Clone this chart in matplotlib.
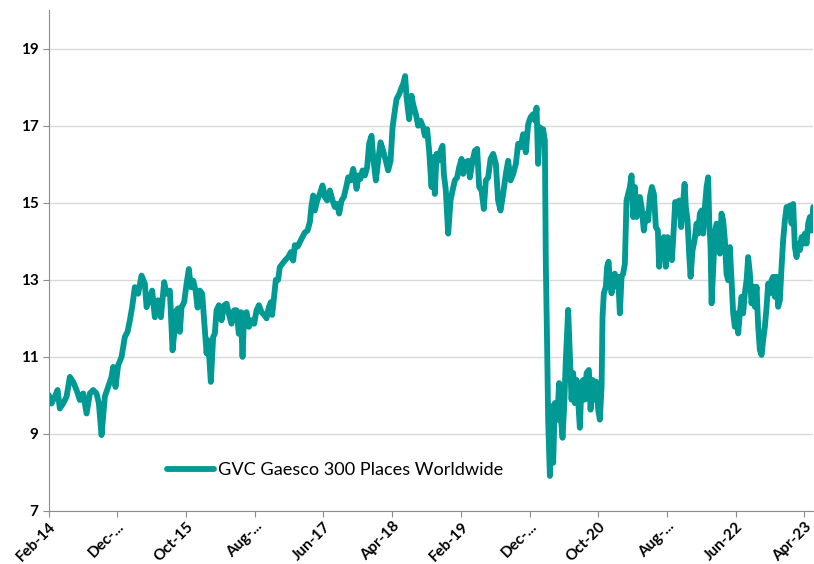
import matplotlib
matplotlib.use('Agg')
import matplotlib.pyplot as plt
import pandas as pd

# months elapsed since Feb 2014
months = [
    0.0, 0.39, 0.87, 1.27, 1.60, 2.08, 2.58, 3.06, 3.54, 4.03, 4.51, 4.99, 5.49, 5.97,
    6.45, 6.94, 7.28, 7.67, 8.15, 8.63, 9.12, 9.36, 9.70, 10.08, 10.58, 11.06, 11.45,
    11.79, 12.12, 12.51, 12.99, 13.49, 13.97, 14.22, 14.70, 15.03, 15.42, 15.90, 16.30,
    16.78, 17.13, 17.61, 18.00,
    18.58, 18.81, 19.06, 19.31, 19.69, 20.04, 20.37, 20.66, 21.00, 21.35, 21.64, 21.97,
    22.31, 22.60, 22.95, 23.18, 23.57, 23.91, 24.15, 24.40, 24.74, 25.13, 25.51, 25.86,
    26.19, 26.58, 26.96, 27.31, 27.64, 27.94, 28.18, 28.42, 28.77, 29.10, 29.49, 29.87,
    30.22, 30.56, 30.95, 31.33, 31.68, 32.01, 32.30, 32.49, 32.78, 33.03, 33.36, 33.61,
    33.95, 34.34, 34.82, 35.21, 35.55, 35.79, 36.19, 36.52, 36.86, 37.25, 37.64, 37.98,
    38.22, 38.46,
    38.70, 39.04, 39.43, 39.82, 40.16, 40.49, 40.89, 41.28, 41.61, 41.95, 42.24, 42.59,
    42.92, 43.32, 43.55, 43.90, 44.28, 44.52, 44.77, 45.06, 45.35, 45.64, 45.98, 46.31,
    46.60, 46.95, 47.19, 47.58, 47.91, 48.26, 48.64, 49.03, 49.37, 49.72, 50.01, 50.34,
    50.59, 50.97, 51.32, 51.55, 51.84, 52.05, 52.42, 52.77, 53.00, 53.40, 53.73, 54.08,
    54.46, 54.71, 55.04, 55.33,
    55.68, 55.92, 56.16, 56.41, 56.64, 56.99, 57.28, 57.47, 57.76, 58.10, 58.45, 58.74,
    59.07, 59.41, 59.70, 60.05, 60.28, 60.67, 61.01, 61.26, 61.65, 61.98, 62.32, 62.61,
    62.96, 63.29, 63.58, 63.92, 64.27, 64.65, 65.04, 65.37, 65.72, 66.10, 66.49, 66.83,
    67.18, 67.56, 67.95, 68.28, 68.63, 69.01, 69.40, 69.74, 70.09, 70.47, 70.76, 70.96,
    71.19, 71.44, 71.69, 71.92,
    72.17, 72.31, 72.50, 72.65, 72.90, 73.14, 73.38, 73.62, 73.96, 74.25, 74.45, 74.74,
    74.98, 75.22, 75.56, 75.81, 76.05, 76.29, 76.53, 76.78, 77.01, 77.26, 77.51, 77.74,
    77.99, 78.24, 78.57, 78.82, 79.11, 79.30, 79.59, 79.93, 80.17, 80.42, 80.56, 80.75,
    81.04, 81.23, 81.44, 81.63, 81.88, 82.11, 82.35, 82.60, 82.83, 83.08, 83.33, 83.56,
    83.81, 84.05, 84.29, 84.54, 84.78, 85.02, 85.26, 85.51, 85.74, 85.99, 86.24, 86.57,
    86.86, 87.20, 87.45, 87.74, 88.03, 88.32, 88.61, 88.80, 89.00, 89.29, 89.48, 89.77,
    90.02, 90.36, 90.65, 90.94, 91.13, 91.42, 91.71, 92.00, 92.30, 92.50, 92.68, 92.93,
    93.16, 93.37, 93.66, 93.95, 94.24, 94.47, 94.72, 94.97, 95.20, 95.45, 95.70, 95.93,
    96.08, 96.28, 96.43, 96.66, 96.90, 97.15, 97.38, 97.63, 97.87, 98.11, 98.36, 98.60,
    98.84, 99.09, 99.33, 99.57, 99.81, 100.06, 100.30, 100.54, 100.79, 101.02, 101.27,
    101.52, 101.75, 102.00, 102.24, 102.48, 102.72, 102.97, 103.21, 103.45, 103.70,
    103.93, 104.18, 104.43, 104.66, 104.91, 105.15, 105.39, 105.63, 105.88, 106.11,
    106.36, 106.61, 106.84, 107.09, 107.34, 107.57, 107.82, 108.06, 108.30, 108.54,
    108.79, 109.02, 109.27, 109.52, 109.75, 110.00, 110.24, 110.48, 110.73, 110.97, 111.21,
]

nav = [
    10.01, 9.79, 9.97, 10.14, 9.66, 9.79, 9.97, 10.48, 10.35, 10.14, 9.88, 10.05, 9.53, 10.05,
    10.14, 10.05, 9.79, 8.97, 9.97, 10.22, 10.48, 10.74, 10.22, 10.78, 11.00, 11.52, 11.65,
    11.95, 12.29, 12.81, 12.64, 13.11, 12.90, 12.29, 12.55, 12.72, 12.03, 12.47, 12.03,
    12.94, 12.64, 12.72, 11.17,
    12.21, 12.26, 11.65, 12.29, 12.42, 12.90, 13.28, 12.81, 12.98, 12.72, 12.28, 12.72,
    12.64, 11.95, 11.09, 11.43, 10.35, 11.52, 11.60, 12.21, 12.34, 11.95, 12.34, 12.38,
    12.12, 11.86, 12.21, 12.21, 11.60, 12.16, 11.00, 12.12, 12.16, 11.78, 11.95, 11.86,
    12.21, 12.34, 12.16, 12.09, 12.00, 12.29, 12.42, 12.09, 12.57, 13.00, 13.00, 13.33,
    13.41, 13.50, 13.59, 13.72, 13.50, 13.90, 13.86, 13.98, 14.10, 14.23, 14.28, 14.50,
    14.93, 15.19,
    14.80, 15.06, 15.23, 15.45, 15.15, 15.06, 15.32, 15.06, 14.89, 14.97, 14.72, 15.06,
    15.15, 15.45, 15.66, 15.58, 15.88, 15.66, 15.36, 15.71, 15.62, 15.84, 15.71, 15.92,
    16.53, 16.74, 16.18, 15.58, 16.09, 16.57, 16.35, 16.09, 15.84, 16.09, 16.96, 17.39,
    17.69, 17.82, 17.99, 18.08, 18.29, 17.73, 17.17, 17.78, 17.56, 17.30, 17.00, 17.13,
    16.96, 16.74, 16.91, 16.35,
    15.41, 16.18, 15.23, 16.27, 16.09, 16.35, 16.48, 15.75, 15.32, 14.20, 15.06, 15.32,
    15.58, 15.66, 15.92, 16.14, 15.75, 16.05, 16.09, 15.66, 16.09, 16.35, 16.40, 15.41,
    15.32, 14.84, 15.58, 15.66, 16.14, 16.27, 16.01, 15.06, 14.80, 15.23, 15.75, 16.09,
    15.58, 15.75, 16.01, 16.53, 16.44, 16.78, 16.31, 17.04, 17.22, 17.30, 17.13, 17.47,
    16.01, 16.96, 16.78, 16.91,
    16.60, 13.40, 11.27, 9.37, 7.91, 9.72, 8.25, 9.80, 9.37, 10.32, 9.54, 8.90,
    9.72, 10.92, 12.22, 11.00, 9.89, 10.58, 9.80, 10.40, 9.89, 9.16, 10.32, 10.40,
    9.89, 10.58, 10.66, 9.63, 10.40, 9.89, 10.36, 9.63, 9.37, 10.23, 12.04, 12.65,
    12.82, 13.34, 13.47, 12.99, 12.65, 13.08, 13.16, 12.82, 13.08, 12.13, 13.08, 13.16,
    13.42, 15.06, 15.23, 15.41, 15.71, 14.63, 15.41, 14.63, 15.06, 15.15, 14.89, 14.28,
    14.72, 14.54, 15.15, 15.41, 15.23, 14.37, 14.28, 13.34, 14.03, 13.68, 14.11, 13.34,
    14.11, 13.85, 13.51, 14.37, 15.02, 14.89, 15.06, 14.37, 15.06, 15.49, 14.89, 14.54,
    13.68, 13.08, 13.77, 14.03, 14.46, 14.20, 14.72, 14.80, 14.20, 14.89, 15.41, 15.66,
    14.54, 13.85, 12.39, 13.25, 14.20, 14.46, 14.37, 13.68, 14.72, 14.54, 14.03, 13.16,
    12.99, 13.85, 12.99, 12.13, 11.78, 12.13, 11.61, 12.13, 12.56, 12.13, 12.65,
    12.99, 13.59, 13.16, 12.39, 12.82, 12.30, 12.82, 11.78, 11.18, 11.05,
    11.44, 11.78, 12.30, 12.90, 12.65, 12.99, 13.08, 12.56, 13.08, 12.30,
    12.47, 13.34, 14.03, 14.54, 14.89, 14.72, 14.93, 14.46, 14.97, 13.85,
    13.59, 13.94, 13.77, 14.11, 13.94, 14.20, 13.94, 14.46, 14.63, 14.28, 14.89,
]

tick_labels = ['Feb-14', 'Dec-...', 'Oct-15', 'Aug-...', 'Jun-17', 'Apr-18',
               'Feb-19', 'Dec-...', 'Oct-20', 'Aug-...', 'Jun-22', 'Apr-23']
series_name = 'GVC Gaesco 300 Places Worldwide'

start = pd.Timestamp('2014-02-01')
dates = [start + pd.Timedelta(days=m * 30.4375) for m in months]
tick_dates = pd.date_range('2014-02-01', periods=len(tick_labels), freq='10MS')

plt.rcParams['font.family'] = ['Lato', 'DejaVu Sans']

fig = plt.figure(figsize=(8.14, 5.64), dpi=100)
ax = fig.add_axes([0.060, 0.094, 0.939, 0.888])

ax.plot(dates, nav, color='#009994', lw=4.2, solid_joinstyle='round',
        solid_capstyle='round', label=series_name)

ax.set_ylim(7, 20)
ax.set_yticks(range(7, 20, 2))
ax.set_xlim(dates[0], dates[-1])
ax.set_xticks(tick_dates)
ax.set_xticklabels(tick_labels, rotation=45, ha='right', rotation_mode='anchor')

ax.grid(axis='y', color='#d9d9d9', lw=1)
ax.set_axisbelow(True)
for s in ['top', 'right']:
    ax.spines[s].set_visible(False)
for s in ['left', 'bottom']:
    ax.spines[s].set_color('#8c8c8c')
ax.tick_params(axis='both', colors='#8c8c8c', length=4, labelcolor='black',
               labelsize=11)
ax.tick_params(axis='x', pad=2)
for lab in ax.get_xticklabels() + ax.get_yticklabels():
    lab.set_fontweight('bold')

ax.legend(loc='center left', bbox_to_anchor=(0.133, 0.082), frameon=False,
          fontsize=13.1, handlelength=2.6, handletextpad=0.2)

plt.savefig('out.png', dpi=100)
